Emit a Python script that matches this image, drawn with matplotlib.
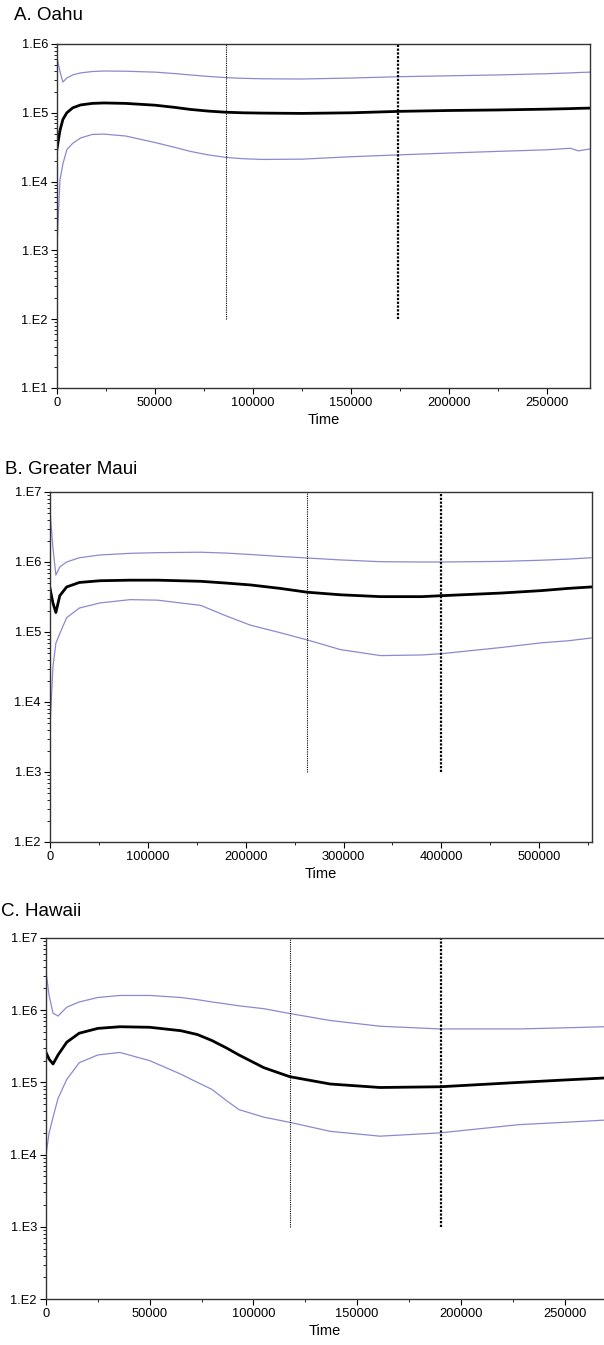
import numpy as np
import matplotlib
matplotlib.use("Agg")
import matplotlib.pyplot as plt
from matplotlib.ticker import FuncFormatter, LogLocator, MultipleLocator

plt.rcParams['font.family'] = ['Liberation Sans', 'DejaVu Sans']

# ---- A. Oahu ----
a_time = [0, 1500, 3000, 5000, 8000, 12000, 18000, 24000, 35000, 50000, 60000, 68000, 77000,
          86000, 95000, 105000, 125000, 150000, 175000, 200000, 225000, 250000, 262000, 266000, 272000]
a_median = [3.0e4, 5.5e4, 8.0e4, 1.0e5, 1.18e5, 1.3e5, 1.37e5, 1.39e5, 1.37e5, 1.29e5, 1.2e5, 1.12e5, 1.06e5,
            1.02e5, 1.0e5, 9.9e4, 9.8e4, 1.0e5, 1.05e5, 1.08e5, 1.1e5, 1.13e5, 1.15e5, 1.16e5, 1.17e5]
a_upper = [6.3e5, 4.0e5, 2.8e5, 3.2e5, 3.55e5, 3.8e5, 3.98e5, 4.05e5, 4.02e5, 3.9e5, 3.72e5, 3.55e5, 3.38e5,
           3.25e5, 3.17e5, 3.12e5, 3.1e5, 3.2e5, 3.35e5, 3.45e5, 3.55e5, 3.7e5, 3.8e5, 3.85e5, 3.9e5]
a_lower = [1.2e3, 1.05e4, 1.8e4, 2.9e4, 3.6e4, 4.3e4, 4.85e4, 4.9e4, 4.6e4, 3.7e4, 3.15e4, 2.75e4, 2.45e4,
           2.25e4, 2.15e4, 2.1e4, 2.12e4, 2.3e4, 2.45e4, 2.6e4, 2.75e4, 2.9e4, 3.05e4, 2.8e4, 2.98e4]
a_marks = [86000, 174000]

# ---- B. Greater Maui ----
b_time = [0, 3000, 6000, 10000, 17000, 30000, 51000, 82000, 110000, 154000, 180000, 205000,
          235000, 263000, 297000, 338000, 380000, 400000, 461000, 502000, 530000, 553000]
b_median = [4.2e5, 2.6e5, 1.9e5, 3.3e5, 4.4e5, 5.1e5, 5.4e5, 5.5e5, 5.5e5, 5.3e5, 5.0e5, 4.7e5,
            4.2e5, 3.7e5, 3.4e5, 3.2e5, 3.2e5, 3.3e5, 3.6e5, 3.9e5, 4.2e5, 4.4e5]
b_upper = [5.2e6, 1.6e6, 6.5e5, 8.5e5, 1.0e6, 1.15e6, 1.26e6, 1.33e6, 1.36e6, 1.38e6, 1.34e6, 1.28e6,
           1.2e6, 1.14e6, 1.07e6, 1.01e6, 1.0e6, 1.0e6, 1.02e6, 1.06e6, 1.1e6, 1.15e6]
b_lower = [4.4e3, 3.2e4, 6.9e4, 9.5e4, 1.6e5, 2.2e5, 2.6e5, 2.9e5, 2.85e5, 2.4e5, 1.7e5, 1.25e5,
           9.8e4, 7.7e4, 5.6e4, 4.6e4, 4.7e4, 4.9e4, 6.0e4, 7.0e4, 7.5e4, 8.2e4]
b_marks = [263000, 400000]

# ---- C. Hawaii ----
c_time = [0, 1500, 3400, 5800, 10000, 16000, 25000, 35600, 50000, 65000, 73000, 80000, 87000, 93000,
          105000, 117500, 137000, 161000, 190000, 228000, 250000, 269000]
c_median = [2.6e5, 2.1e5, 1.8e5, 2.4e5, 3.6e5, 4.8e5, 5.6e5, 5.9e5, 5.8e5, 5.2e5, 4.6e5, 3.8e5, 3.0e5, 2.4e5,
            1.6e5, 1.2e5, 9.5e4, 8.5e4, 8.7e4, 1.0e5, 1.08e5, 1.15e5]
c_upper = [3.4e6, 1.6e6, 9.1e5, 8.3e5, 1.1e6, 1.3e6, 1.5e6, 1.6e6, 1.6e6, 1.5e6, 1.4e6, 1.3e6, 1.22e6, 1.15e6,
           1.05e6, 9.0e5, 7.2e5, 6.0e5, 5.5e5, 5.5e5, 5.7e5, 5.9e5]
c_lower = [1.0e4, 2.0e4, 3.3e4, 6.0e4, 1.1e5, 1.87e5, 2.4e5, 2.6e5, 2.0e5, 1.3e5, 1.0e5, 8.0e4, 5.6e4, 4.2e4,
           3.3e4, 2.8e4, 2.1e4, 1.8e4, 2.0e4, 2.6e4, 2.8e4, 3.0e4]
c_marks = [117500, 190300]

BAND = '#8a8ad0'
W, H = 604, 1345


def box(x0, x1, ytop, ybot):
    return [x0 / W, 1 - ybot / H, (x1 - x0) / W, (ybot - ytop) / H]


def panel(fig, rect, title, tx, ty, t, med, up, lo, marks, ylo, yhi, ybar, xmax, xmaj, xmin, right=True):
    ax = fig.add_axes(rect)
    ax.plot(t, up, color=BAND, lw=0.9)
    ax.plot(t, lo, color=BAND, lw=0.9)
    ax.plot(t, med, color='black', lw=2.0)
    ax.vlines(marks[0], ybar, yhi, colors='black', linestyles=(0, (1, 1)), lw=0.8)
    ax.vlines(marks[1], ybar, yhi, colors='black', linestyles=(0, (1, 0.7)), lw=1.6)
    ax.set_yscale('log')
    ax.set_ylim(ylo, yhi)
    ax.set_xlim(0, xmax)
    ax.yaxis.set_major_locator(LogLocator(base=10, numticks=20))
    ax.yaxis.set_minor_locator(LogLocator(base=10, subs=np.arange(2, 10), numticks=20))
    ax.yaxis.set_major_formatter(FuncFormatter(lambda v, p: "1.E%d" % round(np.log10(v))))
    ax.xaxis.set_major_locator(MultipleLocator(xmaj))
    ax.xaxis.set_minor_locator(MultipleLocator(xmin))
    ax.xaxis.set_major_formatter(FuncFormatter(lambda v, p: "%d" % v))
    ax.tick_params(which='major', direction='out', length=4, width=0.8, labelsize=9.3, pad=2.5)
    ax.tick_params(which='minor', direction='out', length=2, width=0.6)
    for s in ax.spines.values():
        s.set_linewidth(1.0)
        s.set_color('#333333')
    if not right:
        ax.spines['right'].set_visible(False)
    ax.set_xlabel('Time', fontsize=10.5, labelpad=3)
    fig.text(tx / W, 1 - ty / H, title, fontsize=13.5, ha='left', va='center')
    return ax


def main():
    fig = plt.figure(figsize=(W / 100, H / 100), dpi=100)
    panel(fig, box(57, 590, 44, 388), 'A. Oahu', 14, 16,
          a_time, a_median, a_upper, a_lower, a_marks, 1e1, 1e6, 1e2, 272000, 50000, 25000)
    panel(fig, box(50, 592, 492, 842), 'B. Greater Maui', 5, 470,
          b_time, b_median, b_upper, b_lower, b_marks, 1e2, 1e7, 1e3, 554000, 100000, 50000)
    panel(fig, box(46, 604, 938, 1299), 'C. Hawaii', 1, 912,
          c_time, c_median, c_upper, c_lower, c_marks, 1e2, 1e7, 1e3, 269000, 50000, 25000, right=False)
    fig.savefig('out.png', dpi=100)


if __name__ == '__main__':
    main()
